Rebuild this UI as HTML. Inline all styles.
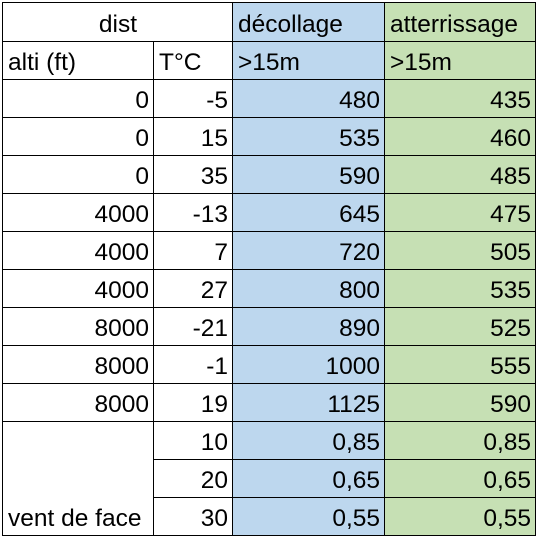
<!DOCTYPE html>
<html><head><meta charset="utf-8"><style>
body{margin:0;background:#fff;width:537px;height:537px;overflow:hidden}
table{position:absolute;left:2px;top:2px;border-collapse:collapse;table-layout:fixed;font-family:"Liberation Sans",sans-serif;font-size:24.5px;color:#000}
tr{height:38px}
tr.h1{height:39px}
td{border:1.5px solid #000;padding:0 4px 2px 5px;vertical-align:bottom;white-space:nowrap;overflow:hidden;line-height:28px;box-sizing:border-box}
.r{text-align:right}.c{text-align:center}
.b{background:#BDD7EE}.g{background:#C6E0B4}
</style></head><body>
<table>
<colgroup><col style="width:151px"><col style="width:79px"><col style="width:152px"><col style="width:151px"></colgroup>
<tr class="h1"><td colspan="2" class="c">dist</td><td class="b">décollage</td><td class="g">atterrissage</td></tr>
<tr><td>alti (ft)</td><td>T°C</td><td class="b">&gt;15m</td><td class="g">&gt;15m</td></tr>
<tr><td class="r">0</td><td class="r">-5</td><td class="r b">480</td><td class="r g">435</td></tr>
<tr><td class="r">0</td><td class="r">15</td><td class="r b">535</td><td class="r g">460</td></tr>
<tr><td class="r">0</td><td class="r">35</td><td class="r b">590</td><td class="r g">485</td></tr>
<tr><td class="r">4000</td><td class="r">-13</td><td class="r b">645</td><td class="r g">475</td></tr>
<tr><td class="r">4000</td><td class="r">7</td><td class="r b">720</td><td class="r g">505</td></tr>
<tr><td class="r">4000</td><td class="r">27</td><td class="r b">800</td><td class="r g">535</td></tr>
<tr><td class="r">8000</td><td class="r">-21</td><td class="r b">890</td><td class="r g">525</td></tr>
<tr><td class="r">8000</td><td class="r">-1</td><td class="r b">1000</td><td class="r g">555</td></tr>
<tr><td class="r">8000</td><td class="r">19</td><td class="r b">1125</td><td class="r g">590</td></tr>
<tr><td rowspan="3">vent de face</td><td class="r">10</td><td class="r b">0,85</td><td class="r g">0,85</td></tr>
<tr><td class="r">20</td><td class="r b">0,65</td><td class="r g">0,65</td></tr>
<tr><td class="r">30</td><td class="r b">0,55</td><td class="r g">0,55</td></tr>
</table>
</body></html>
